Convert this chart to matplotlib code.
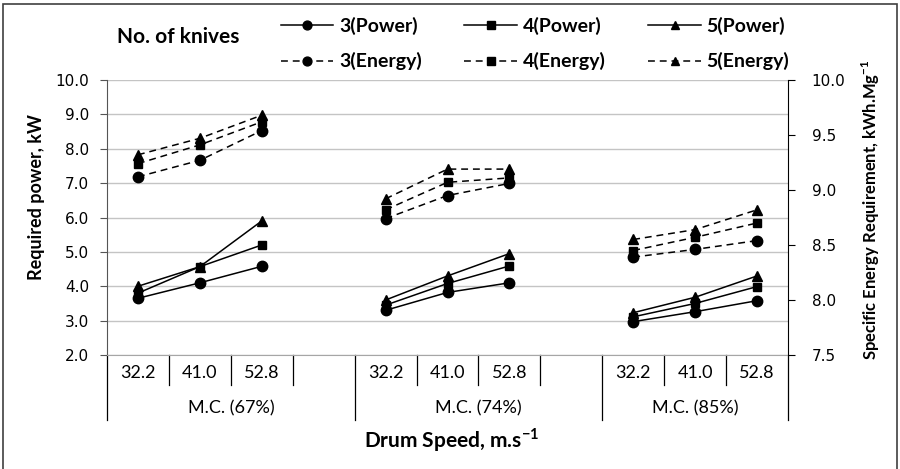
import numpy as np
import matplotlib
matplotlib.use("Agg")
import matplotlib.pyplot as plt
from matplotlib.patches import Rectangle

plt.rcParams["font.family"] = ["Lato", "DejaVu Sans"]
plt.rcParams.update({"mathtext.fontset": "custom", "mathtext.rm": "Lato",
                     "mathtext.bf": "Lato:bold"})

speeds = ["32.2", "41.0", "52.8"]
moisture = ["M.C. (67%)", "M.C. (74%)", "M.C. (85%)"]
knives = ["3", "4", "5"]

# required power, kW -- 3 speeds per moisture group, groups in order
power_3 = [3.65, 4.10, 4.58, 3.30, 3.82, 4.10, 2.97, 3.26, 3.58]
power_4 = [3.80, 4.57, 5.20, 3.45, 4.08, 4.59, 3.11, 3.50, 3.99]
power_5 = [4.00, 4.57, 5.90, 3.60, 4.30, 4.95, 3.23, 3.68, 4.30]
# specific energy requirement, kWh/Mg
energy_3 = [9.12, 9.27, 9.54, 8.74, 8.95, 9.06, 8.39, 8.46, 8.54]
energy_4 = [9.24, 9.41, 9.62, 8.82, 9.07, 9.11, 8.45, 8.57, 8.70]
energy_5 = [9.32, 9.47, 9.68, 8.92, 9.19, 9.19, 8.55, 8.64, 8.82]

MARKERS = {"3": ("o", 7.5), "4": ("s", 6.2), "5": ("^", 7.5)}
N_SLOT = 11  # 3 groups of 3 speeds with an empty slot between groups


def spread(vals):
    out = np.full(N_SLOT, np.nan)
    for g in range(3):
        out[g * 4:g * 4 + 3] = vals[g * 3:g * 3 + 3]
    return out


fig = plt.figure(figsize=(9.0, 4.69), dpi=100)
ax = fig.add_axes([107 / 900, 1 - 355 / 469, (788 - 107) / 900, (355 - 80) / 469])
ax2 = ax.twinx()
x = np.arange(N_SLOT)

handles = {}
for k, pw, en in zip(knives, (power_3, power_4, power_5), (energy_3, energy_4, energy_5)):
    m, ms = MARKERS[k]
    hp, = ax.plot(x, spread(pw), color="black", lw=1.1, marker=m, ms=ms,
                  label=f"{k}(Power)")
    he, = ax2.plot(x, spread(en), color="black", lw=1.1, marker=m, ms=ms,
                   ls=(0, (4.5, 3.2)), label=f"{k}(Energy)")
    handles[k] = (hp, he)

ax.set_xlim(-0.5, N_SLOT - 0.5)
ax.set_ylim(2.0, 10.0)
ax.set_yticks(np.arange(2.0, 10.01, 1.0))
ax.set_yticklabels([f"{v:.1f}" for v in np.arange(2.0, 10.01, 1.0)],
                   family="DejaVu Sans", fontsize=11)
ax2.set_ylim(7.5, 10.0)
ax2.set_yticks(np.arange(7.5, 10.01, 0.5))
ax2.set_yticklabels([f"{v:.1f}" for v in np.arange(7.5, 10.01, 0.5)],
                    family="DejaVu Sans", fontsize=11)
ax.set_xticks([])
ax.grid(axis="y", color="#c4c4c4", lw=1.0)
ax.set_axisbelow(True)
for a in (ax, ax2):
    a.spines["top"].set_visible(False)
ax.spines["bottom"].set_color("#a6a6a6")
ax2.spines["bottom"].set_visible(False)
ax2.spines["left"].set_visible(False)
ax.spines["left"].set_color("#555555")
ax.spines["right"].set_visible(False)
ax2.spines["right"].set_color("black")
ax.tick_params(axis="y", direction="out", length=5, color="#555555", pad=8)
ax2.tick_params(axis="y", direction="out", length=5, color="black", pad=12)

ax.set_ylabel("Required power, kW", fontsize=13, fontweight="bold")
ax.yaxis.set_label_coords((45 - 107) / 681, (355 - 197) / 275)
ax2.set_ylabel("Specific Energy Requirement, kWh.Mg$^{\\mathbf{-1}}$",
               fontsize=12, fontweight="bold", rotation=90)
ax2.yaxis.set_label_coords((860 - 107) / 681, (355 - 210) / 275)

# two-level category axis
tr = ax.get_xaxis_transform()
h = (355 - 80)
row1_y, row1_end = -(373 - 355) / h, -(385 - 355) / h
row2_y, row2_end = -(408 - 355) / h, -(420 - 355) / h
for g in range(3):
    for i, s in enumerate(speeds):
        ax.text(g * 4 + i, row1_y, s, transform=tr, ha="center", va="center", fontsize=13)
    lo = g * 4 - 0.5
    hi = min(g * 4 + 3.5, N_SLOT - 0.5)
    ax.text((lo + hi) / 2, row2_y, moisture[g], transform=tr, ha="center", va="center",
            fontsize=13)
    for b in range(1, 4):
        xb = lo + b
        if xb < N_SLOT - 0.5:
            ax.plot([xb, xb], [0, row1_end], transform=tr, color="black", lw=0.9,
                    clip_on=False)
for xb in (-0.5, 3.5, 7.5, N_SLOT - 0.5):
    ax.plot([xb, xb], [0, row2_end], transform=tr, color="black", lw=0.9, clip_on=False)

fig.text(452 / 900, 1 - 440 / 469, "Drum Speed, m.s$^{\\mathbf{-1}}$", ha="center",
         va="center", fontsize=15, fontweight="bold")

# legend
fig.text(117 / 900, 1 - 37 / 469, "No. of knives", ha="left", va="center",
         fontsize=15, fontweight="bold")
order = [handles["3"][0], handles["3"][1], handles["4"][0], handles["4"][1],
         handles["5"][0], handles["5"][1]]
leg = fig.legend(handles=order, labels=[l.get_label() for l in order], ncol=3,
                 loc="center", bbox_to_anchor=(535 / 900, 1 - 43.5 / 469), frameon=False,
                 handlelength=2.7, handletextpad=0.3, columnspacing=2.2,
                 labelspacing=0.9, borderpad=0, numpoints=1, markerscale=0.85,
                 prop={"weight": "bold", "size": 14})

# outer frame of the chart area
fig.patches.append(Rectangle((3 / 900, -0.1), 894 / 900, 1.1 - 4 / 469,
                             transform=fig.transFigure, fill=False,
                             edgecolor="#404040", lw=1.2))

fig.savefig("out.png", dpi=100)
